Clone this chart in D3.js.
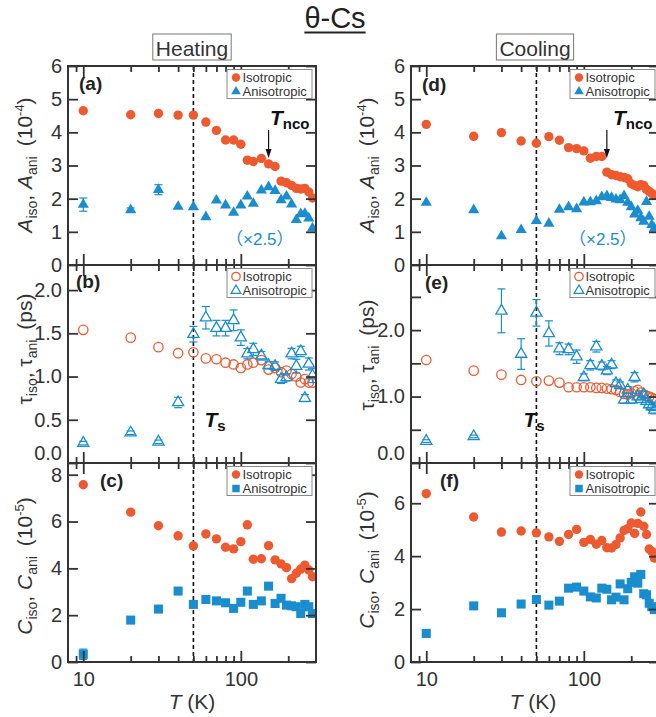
<!DOCTYPE html>
<html>
<head>
<meta charset="utf-8">
<script src="https://cdn.jsdelivr.net/npm/d3@7"></script>
<style>
  body { margin: 0; background: #fff; }
  svg { display: block; }
</style>
</head>
<body>
<script>
// ---------- data ----------
// Heating run temperatures (K)
const heatT = [10, 20, 30, 40, 50, 60, 70, 80, 90, 100, 110, 120, 135, 150, 165, 180, 195, 210, 225, 240, 255, 270, 285];
// Cooling run temperatures (K)
const coolT = [10, 20, 30, 40, 50, 60, 70, 80, 90, 100, 110, 120, 130, 140, 150, 160, 170, 180, 190, 200, 210, 220, 230, 240, 250, 260, 270, 280];

// Amplitudes (10^-4); anisotropic values are shown multiplied by 2.5
const heatIsoA = [4.65, 4.53, 4.57, 4.52, 4.52, 4.31, 4.06, 3.77, 3.77, 3.64, 3.16, 3.12, 3.21, 3.05, 2.97, 2.53, 2.48, 2.40, 2.31, 2.29, 2.31, 2.20, 2.02];
const heatAniA = [1.82, 1.66, 2.27, 1.76, 1.75, 1.45, 1.95, 1.80, 1.58, 1.80, 2.07, 1.85, 2.25, 2.35, 2.24, 1.96, 2.07, 1.83, 1.36, 1.54, 1.55, 1.41, 1.11];
const heatAniAErr = [0.20, 0.06, 0.15, 0, 0, 0, 0, 0, 0, 0, 0, 0, 0, 0, 0, 0, 0, 0, 0, 0, 0, 0, 0];
const coolIsoA = [4.24, 3.88, 3.99, 3.74, 3.67, 3.87, 3.76, 3.54, 3.51, 3.44, 3.22, 3.27, 3.27, 2.80, 2.72, 2.70, 2.66, 2.64, 2.60, 2.45, 2.40, 2.36, 2.42, 2.40, 2.28, 2.22, 2.16, 2.10];
const coolAniA = [1.88, 1.66, 0.87, 1.06, 1.33, 1.25, 1.67, 1.75, 1.69, 1.89, 1.90, 1.93, 2.05, 2.08, 2.03, 1.98, 1.96, 2.08, 1.88, 1.75, 1.53, 1.64, 1.42, 1.31, 1.91, 1.46, 1.21, 1.10];

// Relaxation times (ps)
const heatIsoTau = [1.54, 1.45, 1.34, 1.27, 1.28, 1.21, 1.20, 1.16, 1.14, 1.10, 1.14, 1.16, 1.19, 1.08, 1.10, 1.05, 1.07, 1.03, 1.00, 0.93, 0.97, 0.93, 0.93];
const heatAniTau = [0.23, 0.35, 0.245, 0.70, 1.49, 1.68, 1.56, 1.56, 1.65, 1.45, 1.265, 1.315, 1.24, 1.13, 1.12, 0.97, 0.99, 1.265, 1.12, 1.29, 0.75, 1.145, 1.01];
const heatAniTauErr = [0.02, 0.02, 0.02, 0.06, 0.09, 0.13, 0.09, 0.09, 0.12, 0.09, 0.06, 0.07, 0.05, 0.04, 0.05, 0.05, 0.04, 0.06, 0.08, 0.06, 0.04, 0.07, 0.08];
const coolIsoTau = [1.55, 1.39, 1.33, 1.25, 1.23, 1.24, 1.21, 1.14, 1.14, 1.14, 1.14, 1.13, 1.13, 1.12, 1.11, 1.10, 1.07, 1.04, 1.03, 1.05, 1.08, 1.10, 1.06, 1.03, 1.01, 1.00, 0.98, 0.96];
const coolAniTau = [0.33, 0.40, 2.29, 1.64, 2.26, 1.95, 1.72, 1.71, 1.60, 1.29, 1.47, 1.75, 1.46, 1.39, 1.48, 1.20, 1.17, 0.95, 1.10, 0.95, 1.29, 1.00, 0.96, 1.03, 0.93, 0.88, 0.85, 0.80];
const coolAniTauErr = [0.02, 0.02, 0.33, 0.23, 0.20, 0.19, 0.09, 0.08, 0.10, 0.05, 0.07, 0.08, 0.06, 0.06, 0.06, 0.05, 0.05, 0.05, 0.05, 0.05, 0.07, 0.05, 0.05, 0.05, 0.05, 0.05, 0.06, 0.06];

// Constant offsets (10^-5)
const heatIsoC = [7.57, 6.40, 5.82, 5.39, 4.96, 5.47, 5.26, 4.90, 4.83, 5.14, 5.86, 4.39, 4.41, 4.97, 4.36, 4.19, 4.03, 3.56, 3.79, 3.97, 4.14, 3.93, 3.64];
const heatAniC = [0.33, 1.79, 2.26, 3.03, 2.46, 2.67, 2.61, 2.53, 2.29, 2.55, 3.03, 2.46, 2.61, 3.24, 2.50, 2.72, 2.43, 2.40, 2.36, 2.07, 2.46, 2.36, 2.07];
const heatAniCErr = [0.22, 0, 0, 0, 0, 0, 0, 0, 0, 0, 0, 0, 0, 0, 0, 0, 0, 0, 0, 0, 0, 0, 0];
const coolIsoC = [6.36, 5.48, 4.91, 4.95, 4.88, 4.73, 4.56, 4.82, 5.01, 4.52, 4.63, 4.45, 4.59, 4.32, 4.31, 4.44, 4.69, 4.97, 5.04, 5.25, 4.86, 5.24, 5.67, 5.13, 4.82, 4.27, 4.18, 3.93];
const coolAniC = [1.08, 2.12, 1.86, 2.19, 2.36, 2.15, 2.30, 2.79, 2.83, 2.68, 2.46, 2.42, 2.79, 2.75, 2.35, 2.45, 2.95, 2.35, 2.77, 3.01, 3.22, 2.98, 3.31, 2.58, 2.54, 2.22, 2.09, 1.98];

// Axis ticks
const xMajor = [10, 100];
const xMinor = [9, 20, 30, 40, 50, 60, 70, 80, 90, 200];
const xLabels = ["10", "100"];
const ticksA = [0, 1, 2, 3, 4, 5, 6];
const ticksTauHeat = [0, 0.5, 1.0, 1.5, 2.0];
const ticksTauCool = [0, 0.5, 1.0, 1.5, 2.0, 2.5];
const labelsTauCool = [0, 1.0, 2.0];
const ticksCHeat = [0, 2, 4, 6, 8];
const ticksCCool = [0, 2, 4, 6];

// Characteristic temperatures (K)
const Ts = 50;
const TncoHeat = 150;
const TncoCool = 140;

// ---------- layout ----------
const ORANGE = "#ee5a2f", BLUE = "#1a8dcf", INK = "#333333";
const FONT = "'Liberation Sans', Arial, Helvetica, sans-serif";

const svg = d3.select("body").append("svg")
  .attr("width", 656).attr("height", 717)
  .attr("font-family", FONT);
const defs = svg.append("defs");

const cols = [{ x0: 68, x1: 316 }, { x0: 411, x1: 659 }];
const rows = [{ y0: 66, y1: 265 }, { y0: 265, y1: 463 }, { y0: 463, y1: 662 }];

const fInt = d3.format("d"), f1 = d3.format(".1f");

const panels = [
  { c: 0, r: 0, tag: "(a)", tagDx: 11, tagY: 24, T: heatT, iso: heatIsoA, ani: heatAniA, err: heatAniAErr, yMax: 6,
    ticks: ticksA, labels: ticksA, fmt: fInt, isoStyle: "disc", aniStyle: "tri" },
  { c: 0, r: 1, tag: "(b)", tagDx: 8, tagY: 23, T: heatT, iso: heatIsoTau, ani: heatAniTau, err: heatAniTauErr, yMax: 2.29,
    ticks: ticksTauHeat, labels: ticksTauHeat, fmt: f1, isoStyle: "ring", aniStyle: "otri" },
  { c: 0, r: 2, tag: "(c)", tagDx: 32, tagY: 24, T: heatT, iso: heatIsoC, ani: heatAniC, err: heatAniCErr, yMax: 8.5,
    ticks: ticksCHeat, labels: ticksCHeat, fmt: fInt, isoStyle: "disc", aniStyle: "sq" },
  { c: 1, r: 0, tag: "(d)", tagDx: 11, tagY: 25, T: coolT, iso: coolIsoA, ani: coolAniA, err: null, yMax: 6,
    ticks: ticksA, labels: ticksA, fmt: fInt, isoStyle: "disc", aniStyle: "tri" },
  { c: 1, r: 1, tag: "(e)", tagDx: 14, tagY: 24, T: coolT, iso: coolIsoTau, ani: coolAniTau, err: coolAniTauErr, yMax: 2.98,
    ticks: ticksTauCool, labels: labelsTauCool, fmt: f1, isoStyle: "ring", aniStyle: "otri" },
  { c: 1, r: 2, tag: "(f)", tagDx: 29, tagY: 24, T: coolT, iso: coolIsoC, ani: coolAniC, err: null, yMax: 7.52,
    ticks: ticksCCool, labels: ticksCCool, fmt: fInt, isoStyle: "disc", aniStyle: "sq" }
];

// ---------- marker helpers ----------
const symPath = (type, size) => d3.symbol(type, size)();
function drawMarks(g, data, style, color, x, y, big = true) {
  const sel = g.selectAll(null).data(data);
  if (style === "disc" || style === "ring") {
    sel.join("circle")
      .attr("cx", d => x(d.t)).attr("cy", d => y(d.v))
      .attr("r", big ? 4.7 : 4.2)
      .attr("fill", style === "disc" ? color : "none")
      .attr("stroke", style === "disc" ? "none" : color)
      .attr("stroke-width", 1.3);
  } else {
    const type = style === "sq" ? d3.symbolSquare : d3.symbolTriangle;
    const size = style === "sq" ? (big ? 82 : 56) : (big ? 54 : 40);
    sel.join("path")
      .attr("transform", d => `translate(${x(d.t)},${y(d.v)})`)
      .attr("d", symPath(type, size))
      .attr("fill", style === "otri" ? "none" : color)
      .attr("stroke", style === "otri" ? color : "none")
      .attr("stroke-width", 1.3);
  }
}

function drawErrors(g, data, color, x, y, style) {
  const withErr = data.filter(d => d.e > 0);
  const gapTop = style === "otri" ? 6.5 : 0, gapBot = style === "otri" ? 4 : 0;
  const eg = g.append("g").attr("stroke", color).attr("stroke-width", 1.2).attr("fill", "none");
  withErr.forEach(d => {
    const cx = x(d.t), yt = y(d.v + d.e), yb = y(d.v - d.e), yc = y(d.v);
    if (yc - gapTop > yt) eg.append("line").attr("x1", cx).attr("x2", cx).attr("y1", yt).attr("y2", yc - gapTop);
    if (yc + gapBot < yb) eg.append("line").attr("x1", cx).attr("x2", cx).attr("y1", yc + gapBot).attr("y2", yb);
    eg.append("line").attr("x1", cx - 4).attr("x2", cx + 4).attr("y1", yt).attr("y2", yt);
    eg.append("line").attr("x1", cx - 4).attr("x2", cx + 4).attr("y1", yb).attr("y2", yb);
  });
}

// ---------- panels ----------
panels.forEach((p, i) => {
  const { x0, x1 } = cols[p.c];
  const { y0, y1 } = rows[p.r];
  const x = d3.scaleLog().domain([8, 300]).range([x0, x1]);
  const y = d3.scaleLinear().domain([0, p.yMax]).range([y1, y0]);
  const g = svg.append("g");

  const clipId = "clip" + i;
  defs.append("clipPath").attr("id", clipId)
    .append("rect").attr("x", x0).attr("y", y0).attr("width", x1 - x0).attr("height", y1 - y0);

  // dashed line at the structural transition
  g.append("line")
    .attr("x1", x(Ts)).attr("x2", x(Ts)).attr("y1", y0).attr("y2", y1)
    .attr("stroke", "#111").attr("stroke-width", 1.6).attr("stroke-dasharray", "4,3");

  const plot = g.append("g").attr("clip-path", `url(#${clipId})`);
  const isoData = p.T.map((t, k) => ({ t, v: p.iso[k] }));
  const aniData = p.T.map((t, k) => ({ t, v: p.ani[k], e: p.err ? p.err[k] : 0 }));
  drawMarks(plot, isoData, p.isoStyle, ORANGE, x, y);
  drawErrors(plot, aniData, BLUE, x, y, p.aniStyle);
  drawMarks(plot, aniData, p.aniStyle, BLUE, x, y);

  // axes: inward ticks on all four sides
  const styleAxis = a => {
    a.select(".domain").remove();
    a.selectAll(".tick line").attr("stroke", INK).attr("stroke-width", 1.8);
    a.selectAll("text").attr("fill", INK).attr("font-size", 20).attr("font-family", FONT);
  };
  const left = g.append("g").attr("transform", `translate(${x0},0)`)
    .call(d3.axisLeft(y).tickValues(p.ticks).tickSizeInner(-10).tickSizeOuter(0).tickPadding(6)
      .tickFormat(d => p.labels.some(l => Math.abs(l - d) < 1e-9) ? p.fmt(d) : ""))
    .call(styleAxis);
  // the middle panels lift their zero label clear of the panel below
  if (p.r === 1) left.selectAll(".tick text").filter(d => d === 0).attr("dy", "-0.2em");

  g.append("g").attr("transform", `translate(${x1},0)`)
    .call(d3.axisRight(y).tickValues(p.ticks).tickSizeInner(-10).tickSizeOuter(0).tickFormat(""))
    .call(styleAxis);
  const isBottom = p.r === 2;
  g.append("g").attr("transform", `translate(0,${y1})`)
    .call(d3.axisBottom(x).tickValues(xMajor).tickSizeInner(-11).tickSizeOuter(0).tickPadding(10)
      .tickFormat((d, k) => isBottom ? xLabels[k] : ""))
    .call(styleAxis);
  g.append("g").attr("transform", `translate(0,${y1})`)
    .call(d3.axisBottom(x).tickValues(xMinor).tickSizeInner(-6).tickSizeOuter(0).tickFormat(""))
    .call(styleAxis);
  g.append("g").attr("transform", `translate(0,${y0})`)
    .call(d3.axisTop(x).tickValues(xMajor).tickSizeInner(-11).tickSizeOuter(0).tickFormat(""))
    .call(styleAxis);
  g.append("g").attr("transform", `translate(0,${y0})`)
    .call(d3.axisTop(x).tickValues(xMinor).tickSizeInner(-6).tickSizeOuter(0).tickFormat(""))
    .call(styleAxis);

  // frame
  g.append("rect").attr("x", x0).attr("y", y0).attr("width", x1 - x0).attr("height", y1 - y0)
    .attr("fill", "none").attr("stroke", INK).attr("stroke-width", 2);

  // panel tag
  g.append("text").attr("x", x0 + p.tagDx).attr("y", y0 + p.tagY)
    .attr("font-size", 19).attr("font-weight", "bold").attr("fill", "#222").text(p.tag);

  // legend
  const lg = g.append("g").attr("transform", `translate(${x1 - 89},${y0 + 3.5})`);
  lg.append("rect").attr("width", 85).attr("height", 29)
    .attr("fill", "#fff").attr("stroke", "#8a8a8a").attr("stroke-width", 1);
  const lx = d3.scaleLinear().domain([0, 1]).range([9, 9]);
  const ly = d3.scaleLinear().domain([0, 1]).range([8, 22]);
  drawMarks(lg, [{ t: 0, v: 0 }], p.isoStyle, ORANGE, lx, ly, false);
  drawMarks(lg, [{ t: 0, v: 1 }], p.aniStyle, BLUE, lx, ly, false);
  lg.append("text").attr("x", 15.5).attr("y", 12.5).attr("font-size", 13).attr("fill", INK).text("Isotropic");
  lg.append("text").attr("x", 15.5).attr("y", 26.5).attr("font-size", 13).attr("fill", INK).text("Anisotropic");

  p.x = x; p.y = y;
});

// ---------- annotations ----------
function subLabel(x, y, main, sub) {
  const t = svg.append("text").attr("x", x).attr("y", y).attr("fill", "#111").attr("font-weight", "bold");
  t.append("tspan").attr("font-style", "italic").attr("font-size", 21).text(main);
  t.append("tspan").attr("font-size", 15).attr("dy", 4).text(sub);
}

// T_nco markers with arrows (top panels)
[[panels[0], TncoHeat], [panels[3], TncoCool]].forEach(([p, t]) => {
  const x0 = cols[p.c].x0;
  subLabel(x0 + 202, 125, "T", "nco");
  const ax = p.x(t);
  svg.append("line").attr("x1", ax).attr("x2", ax).attr("y1", 130).attr("y2", 150)
    .attr("stroke", "#111").attr("stroke-width", 1.2);
  svg.append("path").attr("d", `M${ax - 3},149 L${ax + 3},149 L${ax},158 Z`).attr("fill", "#111");
  // scale factor note for the anisotropic amplitude
  const note = svg.append("text").attr("x", x0 + 158).attr("y", 245)
    .attr("font-size", 17).attr("fill", BLUE);
  note.append("tspan").attr("font-family", "'Noto Sans CJK JP', sans-serif").text("（");
  note.append("tspan").text("×2.5");
  note.append("tspan").attr("font-family", "'Noto Sans CJK JP', sans-serif").text("）");
});

// T_s labels (middle panels)
subLabel(panels[1].x(Ts) + 11, 427, "T", "s");
subLabel(panels[4].x(Ts) - 13, 427, "T", "s");

// y-axis titles
function yTitle(x, yc, sym, symItalic, unit, sup) {
  const t = svg.append("text").attr("transform", `translate(${x},${yc}) rotate(-90)`)
    .attr("text-anchor", "middle").attr("font-size", 21).attr("fill", INK);
  const s = symItalic ? "italic" : null;
  t.append("tspan").attr("font-style", s).text(sym);
  t.append("tspan").attr("font-size", 14).attr("dy", 5).text("iso");
  t.append("tspan").attr("dy", -5).text(", ");
  t.append("tspan").attr("font-style", s).text(sym);
  t.append("tspan").attr("font-size", 14).attr("dy", 5).text("ani");
  if (sup) {
    t.append("tspan").attr("dy", -5).text("\u2009 (10");
    t.append("tspan").attr("font-size", 13).attr("dy", -8).text(sup);
    t.append("tspan").attr("dy", 8).text(")");
  } else {
    t.append("tspan").attr("dy", -5).text("\u2009 (" + unit + ")");
  }
}
[[32, 0], [374, 1]].forEach(([xx, c]) => {
  yTitle(xx, 165, "A", true, null, "-4");
  yTitle(xx, c ? 355 : 349, "τ", false, "ps", null);
  yTitle(xx, c ? 560 : 566, "C", true, null, "-5");
});

// x-axis titles
[0, 1].forEach(c => {
  const cx = (cols[c].x0 + cols[c].x1) / 2 - (c ? 2 : 0);
  const t = svg.append("text").attr("x", cx).attr("y", 709).attr("text-anchor", "middle")
    .attr("font-size", 21).attr("fill", INK);
  t.append("tspan").attr("font-style", "italic").text("T");
  t.append("tspan").text(" (K)");
});

// run headers in framed boxes
[["Heating", 192], ["Cooling", 535]].forEach(([txt, cx]) => {
  const hg = svg.append("g");
  const box = hg.append("rect");
  const t = hg.append("text").attr("x", cx).attr("y", 55.5).attr("text-anchor", "middle")
    .attr("font-size", 21).attr("fill", INK).text(txt);
  const bb = t.node().getBBox();
  box.attr("x", bb.x - 3).attr("y", 34).attr("width", bb.width + 6).attr("height", 26)
    .attr("fill", "#fff").attr("stroke", "#777").attr("stroke-width", 1);
});

// main title
const title = svg.append("text").attr("x", 335).attr("y", 28).attr("text-anchor", "middle")
  .attr("font-size", 29).attr("fill", "#222").text("θ-Cs");
const tb = title.node().getBBox();
svg.append("line").attr("x1", tb.x).attr("x2", tb.x + tb.width).attr("y1", 32.5).attr("y2", 32.5)
  .attr("stroke", "#222").attr("stroke-width", 2);
</script>
</body>
</html>
